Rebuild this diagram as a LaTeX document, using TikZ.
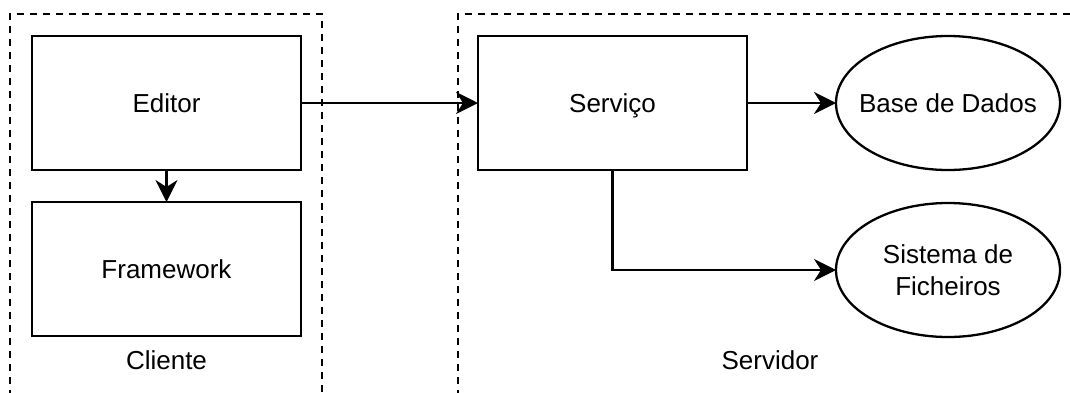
\documentclass[tikz,border=0pt]{standalone}
\usepackage{fontspec}
\setmainfont{Liberation Sans}
\usetikzlibrary{arrows.meta,shapes.geometric}
\begin{document}
\begin{tikzpicture}[x=1pt,y=-1pt,
  every node/.style={font=\fontsize{26}{32}\selectfont, inner sep=0pt, outer sep=0pt},
  block/.style={draw, line width=2.3pt, rectangle, minimum width=269pt, minimum height=134pt,
                text height=18.6pt, text depth=0pt},
  store/.style={draw, line width=2.3pt, ellipse, minimum width=224pt, minimum height=134pt,
                align=center, inner xsep=-30pt, inner ysep=-20pt},
  caption/.style={text height=18.6pt, text depth=0pt},
  group/.style={draw, line width=2.5pt, dash pattern=on 7pt off 6pt},
  link/.style={draw, line width=2.3pt, -{Stealth[length=22pt,width=22pt,inset=7pt]}}
]
\useasboundingbox (0,0) rectangle (1070,392);
\clip (0,0) rectangle (1070,392);

% client and server groups
\draw[group] (10,410) -- (10,14) -- (322,14) -- (322,410);
\draw[group] (458,410) -- (458,14) -- (1090,14);

% client side
\node[block] (editor) at (166.5,103) {Editor};
\node[block] (framework) at (166.5,269) {Framework};
\node[caption] (cliente) at (166.5,360) {Cliente};

% server side
\node[block] (servico) at (612.5,103) {Serviço};
\node[store] (bd) at (948,103) {Base de Dados};
\node[store] (fs) at (948,270) {Sistema de\\Ficheiros};
\node[caption] (servidor) at (770,360) {Servidor};

% connectors
\draw[link] (editor) -- (framework);
\draw[link] (editor) -- (servico);
\draw[link] (servico) -- (bd);
\draw[link] (servico.south) |- (fs.west);
\end{tikzpicture}
\end{document}
